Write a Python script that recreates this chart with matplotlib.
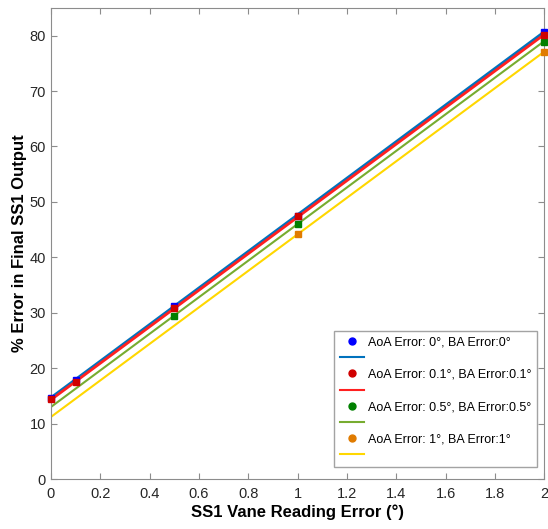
import numpy as np
import matplotlib
matplotlib.use('Agg')
import matplotlib.pyplot as plt
from matplotlib.lines import Line2D

plt.rcParams['font.family'] = ['Liberation Sans', 'DejaVu Sans']

# measured points
x_all = [0, 0.1, 0.5, 1, 2]
blue_y = [14.7, 17.9, 31.3, 47.5, 80.6]
red_y = [14.5, 17.5, 30.9, 47.4, 80.2]
x_green = [0.5, 1, 2]
green_y = [29.5, 46.0, 78.9]
x_orange = [1, 2]
orange_y = [44.2, 77.1]

# fitted lines (value at x=0 and x=2)
line_x = [0, 2]
blue_fit = [14.6, 80.6]
red_fit = [14.3, 80.2]
green_fit = [13.0, 79.0]
yellow_fit = [11.2, 77.1]

labels = ['AoA Error: 0°, BA Error:0°',
          'AoA Error: 0.1°, BA Error:0.1°',
          'AoA Error: 0.5°, BA Error:0.5°',
          'AoA Error: 1°, BA Error:1°']

marker_cols = ['#0000FF', '#D00000', '#008000', '#E07B00']
line_cols = ['#0072BD', '#FF2020', '#77AC30', '#FFD700']

fig = plt.figure(figsize=(5.48, 5.29), dpi=100)
ax = fig.add_axes([0.093, 0.0945, 0.9, 0.8905])

ax.plot(line_x, blue_fit, color=line_cols[0], lw=2.5, zorder=2)
ax.plot(line_x, red_fit, color=line_cols[1], lw=2.0, zorder=3)
ax.plot(line_x, green_fit, color=line_cols[2], lw=1.5, zorder=2)
ax.plot(line_x, yellow_fit, color=line_cols[3], lw=1.5, zorder=2)

ax.plot(x_all, blue_y, 's', color=marker_cols[0], ms=5, zorder=4, clip_on=False)
ax.plot(x_all, red_y, 's', color=marker_cols[1], ms=5, zorder=5, clip_on=False)
ax.plot(x_green, green_y, 's', color=marker_cols[2], ms=4.5, zorder=4, clip_on=False)
ax.plot(x_orange, orange_y, 's', color=marker_cols[3], ms=4.5, zorder=4, clip_on=False)

ax.set_xlim(0, 2)
ax.set_ylim(0, 85)
ax.set_xticks(np.arange(0, 2.01, 0.2))
ax.set_xticklabels(['0', '0.2', '0.4', '0.6', '0.8', '1', '1.2', '1.4', '1.6', '1.8', '2'])
ax.set_yticks(range(0, 81, 10))

for s in ax.spines.values():
    s.set_color('#8c8c8c')
ax.tick_params(direction='in', length=4, color='#8c8c8c', labelcolor='#262626',
               labelsize=10.5, top=True, right=True)
ax.tick_params(axis='x', pad=6)

ax.set_xlabel('SS1 Vane Reading Error (°)', fontsize=12, fontweight='bold', labelpad=2)
ax.set_ylabel('% Error in Final SS1 Output', fontsize=12, fontweight='bold', labelpad=2)

handles = []
leg_labels = []
for i in range(4):
    handles.append(Line2D([], [], ls='none', marker='o', ms=5, color=marker_cols[i]))
    leg_labels.append(labels[i])
    handles.append(Line2D([], [], color=line_cols[i], lw=1.5))
    leg_labels.append(' ')
leg = ax.legend(handles, leg_labels, loc='lower right', bbox_to_anchor=(0.99, 0.02),
                fontsize=9, frameon=True, fancybox=False, handlelength=1.9,
                labelspacing=0.33, borderpad=0.45, handletextpad=0.3,
                borderaxespad=0.2)
leg.get_frame().set_edgecolor('#8c8c8c')
leg.get_frame().set_linewidth(1.0)

fig.savefig('out.png', dpi=100)
